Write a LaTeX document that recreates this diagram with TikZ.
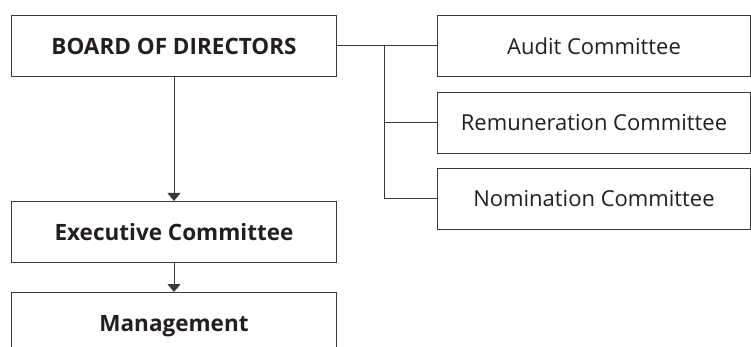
\documentclass[tikz,border=0pt]{standalone}
\usepackage{fontspec}
\setmainfont{Open Sans}
\usetikzlibrary{arrows.meta}
\definecolor{ink}{HTML}{231F20}
\definecolor{rule}{HTML}{3A3A3A}
\begin{document}
\begin{tikzpicture}[x=1pt,y=-1pt,
  box/.style={draw=rule,line width=1pt,fill=white,inner sep=0pt,text=ink,anchor=north west},
  mainbox/.style={box,minimum width=325pt,minimum height=61pt,font=\fontsize{22.5}{26}\selectfont\bfseries},
  combox/.style={box,minimum width=313pt,minimum height=61pt,font=\fontsize{22}{26}\selectfont},
  link/.style={draw=rule,line width=1pt},
  arr/.style={link,-{Triangle[width=13pt,length=8pt]}}]
\useasboundingbox (0,0) rectangle (751,347);
\clip (0,0) rectangle (751,347);
% left column
\node[mainbox] (board) at (11,15) {BOARD OF DIRECTORS};
\node[mainbox] (exec) at (11,201) {Executive Committee};
\node[mainbox,minimum height=70pt] (mgmt) at (11,292) {\raisebox{9pt}{Management}};
% committees
\node[combox] (audit) at (437,15) {Audit Committee};
\node[combox] (remun) at (437,92) {Remuneration Committee};
\node[combox] (nomin) at (437,168) {Nomination Committee};
% connectors
\coordinate (bus) at (384,45.5);
\draw[link] (board.east) -- (audit.west);
\draw[link] (bus) |- (remun.west);
\draw[link] (bus) |- (nomin.west);
\draw[arr] (board.south) -- (exec.north);
\draw[arr] (exec.south) -- (mgmt.north);
\end{tikzpicture}
\end{document}
